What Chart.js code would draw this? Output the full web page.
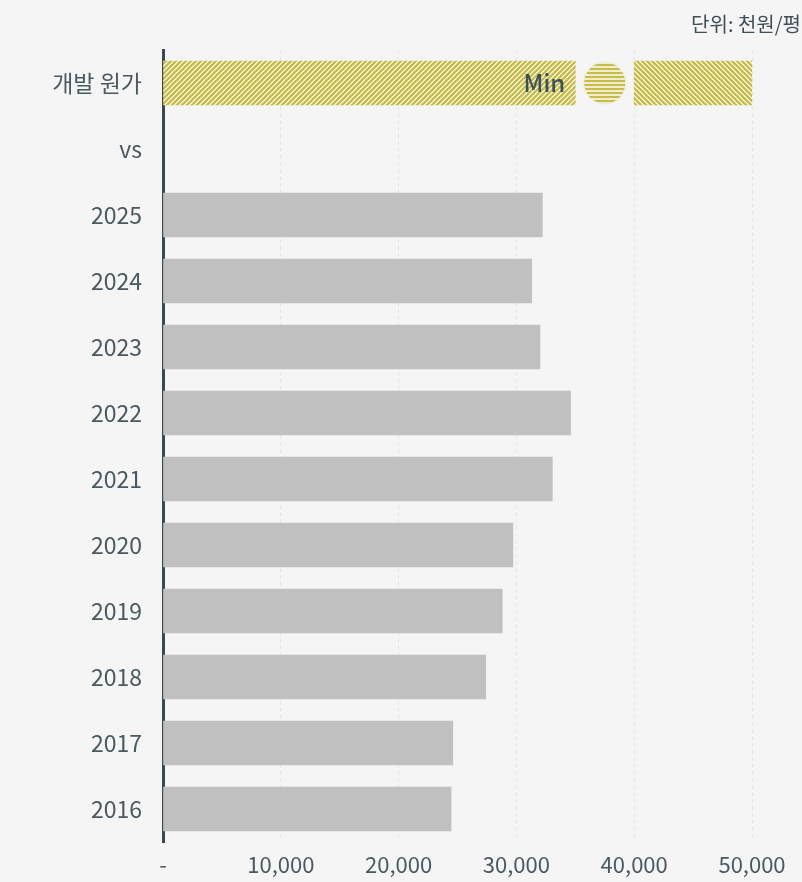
<!DOCTYPE html>
<html><head><meta charset="utf-8">
<script src="https://cdn.jsdelivr.net/npm/chart.js@4"></script>
<style>
html,body{margin:0;padding:0;background:#f5f5f5;}
#wrap{position:relative;width:802px;height:882px;overflow:hidden;}
#unit{position:absolute;right:1px;top:9px;font:20px "Noto Sans CJK KR","Noto Sans",sans-serif;color:#3f4f57;white-space:nowrap;}
canvas{display:block;}
</style></head><body>
<div id="wrap"><canvas id="c" width="802" height="882"></canvas><div id="unit">단위: 천원/평</div></div>
<script>
const categories = ['개발 원가','vs','2025','2024','2023','2022','2021','2020','2019','2018','2017','2016'];
const yearlyCost = [null, null, 32200, 31300, 32000, 34600, 33050, 29700, 28800, 27400, 24600, 24450];
const devCostMinRange = [0, 35000];
const devCostMaxRange = [40000, 50000];
const devCostMid = 37500;
const xTickValues = [0, 10000, 20000, 30000, 40000, 50000];
const minLabel = 'Min';

function makePattern(fn, size){
  const cv = document.createElement('canvas');
  cv.width = size; cv.height = size;
  const cx = cv.getContext('2d');
  const img = cx.createImageData(size, size);
  const o = [198,189,76], c = [241,238,203];
  for (let y=0;y<size;y++) for (let x=0;x<size;x++){
    const col = fn(x,y) ? o : c; const i=(y*size+x)*4;
    img.data[i]=col[0];img.data[i+1]=col[1];img.data[i+2]=col[2];img.data[i+3]=255;
  }
  cx.putImageData(img,0,0);
  return cx.createPattern(cv,'repeat');
}
const P = 5;
const patFwd = makePattern((x,y)=>((x+y)%P) < 3, P);
const patBack = makePattern((x,y)=>(((x-y)%P+P)%P) < 3, P);
const patHoriz = makePattern((x,y)=>(y%4) < 2, 4);

const first = categories[0];
const minBarData = categories.map(c => c===first ? devCostMinRange : null);
const maxBarData = categories.map(c => c===first ? devCostMaxRange : null);

const TXT = '#4a5960';
const FONT = '"Noto Sans CJK KR","Noto Sans",sans-serif';

const minLabelPlugin = {
  id:'minLabel',
  afterDatasetsDraw(chart){
    const el = chart.getDatasetMeta(1).data[0];
    if(!el) return;
    const ctx = chart.ctx;
    ctx.save();
    ctx.font = '500 24px ' + FONT;
    ctx.fillStyle = '#3d4f58';
    ctx.textAlign = 'right';
    ctx.textBaseline = 'middle';
    ctx.fillText(minLabel, el.x - 10, el.y);
    ctx.restore();
  }
};

new Chart(document.getElementById('c'), {
  type:'bar',
  data:{
    labels: categories,
    datasets:[
      {label:'연도별', data: yearlyCost, backgroundColor:'#c0c0c0', borderWidth:0, order:3},
      {label:'개발 원가 Min', data: minBarData, backgroundColor: patFwd, borderWidth:0, order:2},
      {label:'개발 원가 Max', data: maxBarData, backgroundColor: patBack, borderWidth:0, order:2},
      {type:'line', label:'개발 원가 Mid', indexAxis:'y', data:[{x:devCostMid, y:first}],
       showLine:false, pointRadius:21, pointHoverRadius:21, pointBackgroundColor:patHoriz,
       pointBorderColor:'#ecebd0', pointBorderWidth:1, order:1}
    ]
  },
  options:{
    indexAxis:'y',
    responsive:false,
    animation:false,
    datasets:{bar:{grouped:false, barThickness:44}},
    layout:{padding:{top:50, right:50, left:0, bottom:0}},
    plugins:{legend:{display:false}, tooltip:{enabled:false}, title:{display:false}},
    scales:{
      x:{
        type:'linear', min:0, max:50000,
        afterBuildTicks(s){ s.ticks = xTickValues.map(v=>({value:v})); },
        afterFit(s){ s.height = 40; },
        ticks:{ callback:v => v===0 ? '-' : v.toLocaleString('en-US'), color:TXT, font:{family:FONT, size:22}, padding:9 },
        grid:{ color:'#e6e6e6', lineWidth:1, drawTicks:false },
        border:{ display:false, dash:[4,3] }
      },
      y:{
        type:'category',
        z:1,
        afterFit(s){ s.width = 163; },
        ticks:{ color:TXT, font:{family:FONT, size:23}, padding:21 },
        grid:{ display:false, drawTicks:false },
        border:{ display:true, color:'#3b4a52', width:3 }
      }
    }
  },
  plugins:[minLabelPlugin]
});
</script>
</body></html>
